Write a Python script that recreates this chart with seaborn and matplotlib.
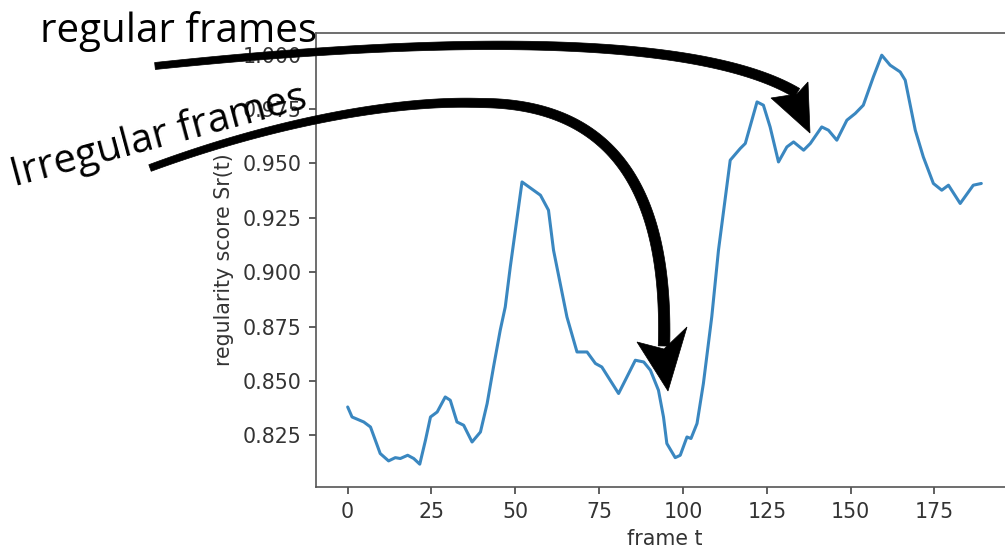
import numpy as np
import matplotlib
matplotlib.use("Agg")
import matplotlib.pyplot as plt
from matplotlib.patches import Polygon
from matplotlib.transforms import Affine2D
import seaborn as sns

# ── Datos ──────────────────────────────────────────────────────────────────
frames = [0, 1.3, 4.8, 6.8, 9.7, 12.2, 14.2, 15.7, 17.9, 19.7, 21.5, 23.2,
          24.7, 26.7, 29.1, 30.6, 32.6, 34.6, 37.1, 39.6, 41.6, 43.5, 45.5,
          47.0, 48.5, 52.0, 57.5, 59.9, 61.4, 65.4, 68.4, 71.4, 73.9, 75.8,
          80.8, 82.8, 85.8, 88.3, 90.3, 92.7, 94.2, 95.2, 97.7, 99.2, 101.2,
          102.4, 104.2, 106.1, 108.6, 110.6, 114.1, 117.1, 118.6, 122.1,
          124.0, 126.0, 128.5, 131.0, 133.0, 136.0, 138.0, 141.4, 143.4,
          145.9, 148.9, 151.4, 153.8, 156.8, 159.3, 161.8, 164.8, 166.3,
          169.3, 171.7, 174.7, 177.2, 179.2, 182.7, 186.6, 189.0]
scores = [0.8380, 0.8334, 0.8311, 0.8288, 0.8166, 0.8132, 0.8147, 0.8143,
          0.8158, 0.8143, 0.8117, 0.8227, 0.8334, 0.8357, 0.8426, 0.8411,
          0.8311, 0.8296, 0.8219, 0.8265, 0.8396, 0.8564, 0.8733, 0.8840,
          0.9024, 0.9415, 0.9354, 0.9285, 0.9101, 0.8794, 0.8633, 0.8633,
          0.8580, 0.8564, 0.8442, 0.8503, 0.8595, 0.8587, 0.8549, 0.8457,
          0.8334, 0.8212, 0.8147, 0.8158, 0.8242, 0.8235, 0.8304, 0.8488,
          0.8795, 0.9101, 0.9515, 0.9569, 0.9592, 0.9783, 0.9768, 0.9668,
          0.9507, 0.9576, 0.9599, 0.9561, 0.9592, 0.9668, 0.9653, 0.9607,
          0.9699, 0.9730, 0.9768, 0.9898, 0.9998, 0.9952, 0.9921, 0.9883,
          0.9653, 0.9530, 0.9408, 0.9377, 0.9400, 0.9316, 0.9400, 0.9408]
x_ticks = [0, 25, 50, 75, 100, 125, 150, 175]
y_ticks = [0.825, 0.850, 0.875, 0.900, 0.925, 0.950, 0.975, 1.000]

W, H = 1005, 551
sns.set_theme(style="ticks")
plt.rcParams["font.family"] = ["DejaVu Sans"]

fig = plt.figure(figsize=(W / 100, H / 100), dpi=100)
ax = fig.add_axes([316 / W, 1 - 487 / H, 697 / W, 454 / H])

sns.lineplot(x=frames, y=scores, ax=ax, color="#3a87c0", linewidth=2.2)
ax.set_xlim(-9.45, 198.45)
ax.set_ylim(0.8012, 1.0100)
ax.set_xticks(x_ticks)
ax.set_yticks(y_ticks)
ax.set_yticklabels([f"{v:.3f}" for v in y_ticks])
ax.tick_params(axis="both", direction="out", length=5, width=1.2,
               color="#444444", labelsize=14.8, labelcolor="#333333", pad=5.5)
for s in ax.spines.values():
    s.set_color("#555555")
    s.set_linewidth(1.2)
ax.set_xlabel("frame t", fontsize=14.8, color="#333333", labelpad=5)
ax.set_ylabel("regularity score Sr(t)", fontsize=14.8, color="#333333", labelpad=6)

# ── Anotaciones: coordenadas en píxeles de la imagen (origen arriba) ──────
px = Affine2D().scale(1 / W, -1 / H).translate(0, 1) + fig.transFigure


def bezier(p0, p1, p2, p3, n=80):
    t = np.linspace(0, 1, n)[:, None]
    p0, p1, p2, p3 = map(np.asarray, (p0, p1, p2, p3))
    return ((1 - t) ** 3) * p0 + 3 * ((1 - t) ** 2) * t * p1 \
        + 3 * (1 - t) * t ** 2 * p2 + t ** 3 * p3


def shaft(points, w0, w1):
    d = np.gradient(points, axis=0)
    d /= np.linalg.norm(d, axis=1)[:, None]
    nrm = np.column_stack([-d[:, 1], d[:, 0]])
    w = np.linspace(w0, w1, len(points))[:, None] / 2
    poly = np.vstack([points + nrm * w, (points - nrm * w)[::-1]])
    fig.patches.append(Polygon(poly, closed=True, transform=px,
                               facecolor="black", edgecolor="black", lw=0.5))


# flecha "regular frames"
shaft(bezier((155, 66), (450, 35), (700, 35), (797, 93)), 7, 10.5)
fig.patches.append(Polygon([(771, 98), (797, 94), (808, 82), (810, 133)],
                           closed=True, transform=px, facecolor="black",
                           edgecolor="black", lw=0.5))

# flecha "Irregular frames"
seg_a = bezier((150, 168), (280, 120), (400, 100), (480, 103))
seg_b = bezier((480, 103), (620, 103), (668, 200), (664, 346))
shaft(np.vstack([seg_a, seg_b[1:]]), 7, 11.5)
fig.patches.append(Polygon([(637, 342), (664, 349), (687, 327), (668, 391)],
                           closed=True, transform=px, facecolor="black",
                           edgecolor="black", lw=0.5))

fig.text(40, 42, "regular frames", transform=px, fontsize=29,
         family=["Open Sans", "DejaVu Sans"], color="black",
         ha="left", va="baseline")
fig.text(14, 186, "Irregular frames", transform=px, fontsize=29,
         family=["Open Sans", "DejaVu Sans"], color="black",
         ha="left", va="baseline", rotation=15, rotation_mode="anchor")

fig.savefig("out.png", dpi=100)
plt.close(fig)
